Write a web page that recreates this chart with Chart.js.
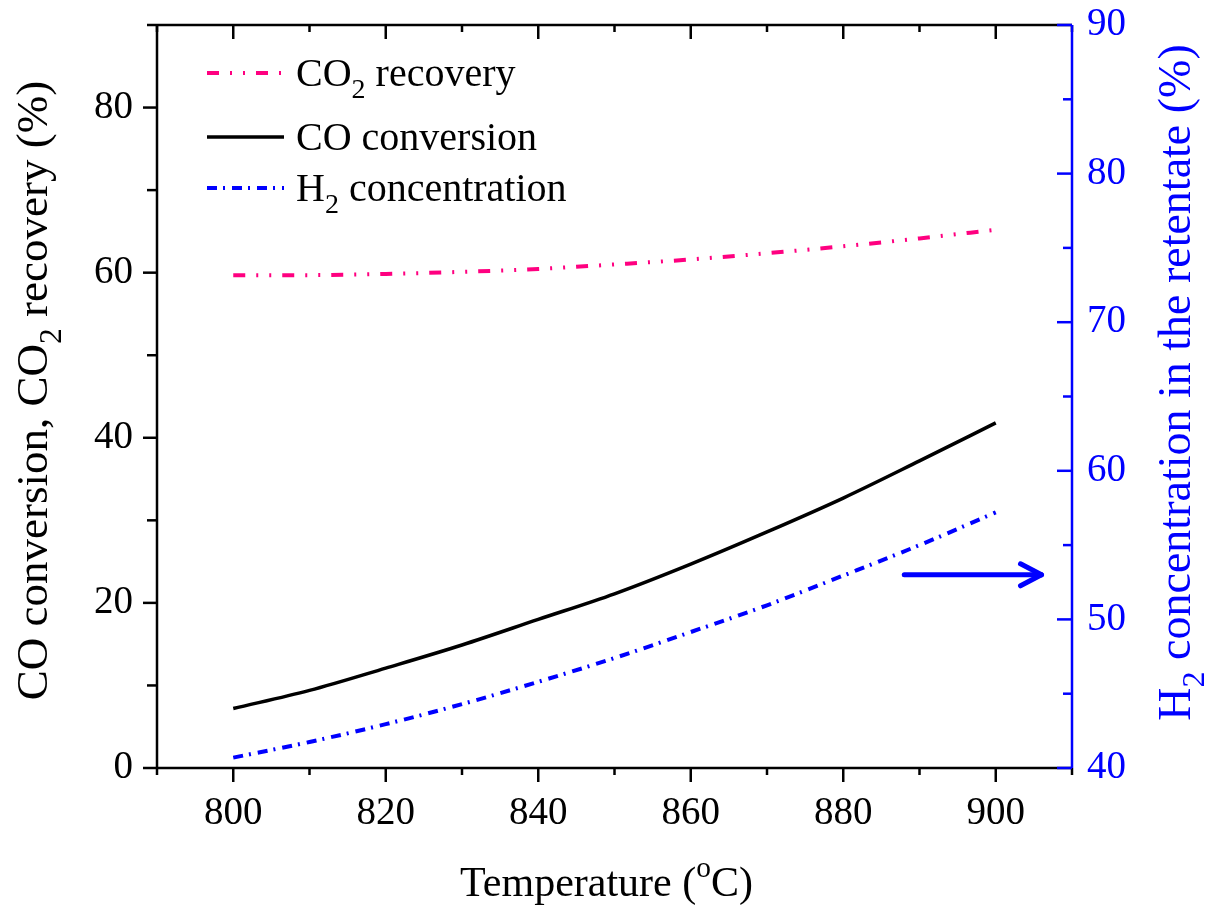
<!DOCTYPE html>
<html>
<head>
<meta charset="utf-8">
<script src="https://cdn.jsdelivr.net/npm/chart.js@4.4.1/dist/chart.umd.min.js"></script>
<style>
  html, body { margin: 0; padding: 0; background: #fff; }
  #chart { display: block; }
</style>
</head>
<body>
<canvas id="chart" width="1209" height="908"></canvas>
<script>
// values
let temps = [800, 810, 820, 830, 840, 850, 860, 870, 880, 890, 900]
let coConversion = [7.2, 9.4, 12.1, 14.9, 18.0, 21.1, 24.7, 28.6, 32.7, 37.2, 41.8]
let co2Recovery = [59.7, 59.7, 59.85, 60.1, 60.45, 61.0, 61.6, 62.35, 63.2, 64.15, 65.2]
let h2Concentration = [40.7, 41.75, 42.95, 44.3, 45.8, 47.4, 49.15, 50.95, 52.95, 55.0, 57.2]

let xTickLabels = [800, 820, 840, 860, 880, 900]
let leftTickLabels = [0, 20, 40, 60, 80]
let rightTickLabels = [40, 50, 60, 70, 80, 90]

let seriesNames = ['CO_{2} recovery', 'CO conversion', 'H_{2} concentration']
let xTitle = 'Temperature (^{o}C)'
let yTitle = 'CO conversion, CO_{2} recovery (%)'
let y1Title = 'H_{2} concentration in the retentate (%)'

// arrow pointing at the right axis (data units)
let arrowFrom = 888
let arrowTo = 906
let arrowLevel = 53

let FONT = '"Liberation Serif", "Times New Roman", serif'
let BLUE = '#0000ff'
let PINK = '#ff0080'

function pairs(ys) {
  return temps.map(function(t, i) { return { x: t, y: ys[i] } })
}

function parseRich(str) {
  let parts = []
  let re = /([_^])\{([^}]*)\}/g
  let last = 0
  let m
  while ((m = re.exec(str))) {
    if (m.index > last) parts.push({ text: str.slice(last, m.index), shift: 0 })
    parts.push({ text: m[2], shift: m[1] === '_' ? 1 : -1 })
    last = re.lastIndex
  }
  if (last < str.length) parts.push({ text: str.slice(last), shift: 0 })
  return parts
}

function drawRich(ctx, str, x, y, size, align) {
  let parts = parseRich(str)
  let fontOf = function(p) { return (p.shift ? size * 0.7 : size) + 'px ' + FONT }
  let widths = parts.map(function(p) {
    ctx.font = fontOf(p)
    return ctx.measureText(p.text).width
  })
  let total = widths.reduce(function(a, b) { return a + b }, 0)
  let cx = align === 'center' ? x - total / 2 : x
  ctx.textAlign = 'left'
  ctx.textBaseline = 'alphabetic'
  parts.forEach(function(p, i) {
    ctx.font = fontOf(p)
    let dy = p.shift === 1 ? size * 0.3 : p.shift === -1 ? -size * 0.45 : 0
    ctx.fillText(p.text, cx, y + dy)
    cx += widths[i]
  })
}

function line(ctx, x1, y1, x2, y2) {
  ctx.beginPath()
  ctx.moveTo(x1, y1)
  ctx.lineTo(x2, y2)
  ctx.stroke()
}

// keep the plot box where the original has it
function fixSize(size, key) {
  return function(s) {
    s[key] = size
    s.paddingTop = 0
    s.paddingBottom = 0
    s.paddingLeft = 0
    s.paddingRight = 0
  }
}

let frame = {
  id: 'frame',
  afterDraw: function(chart) {
    let ctx = chart.ctx
    let a = chart.chartArea
    let xs = chart.scales.x
    let ys = chart.scales.y
    let ys1 = chart.scales.y1
    ctx.save()
    ctx.lineCap = 'butt'
    ctx.lineWidth = 2.5
    ctx.strokeStyle = '#000'
    line(ctx, a.left, a.top, a.left, a.bottom)
    line(ctx, a.left, a.bottom, a.right, a.bottom)
    line(ctx, a.left, a.top, a.right, a.top)
    xs.ticks.forEach(function(t) {
      let px = xs.getPixelForValue(t.value)
      let len = t.label !== '' ? 14 : 7
      line(ctx, px, a.bottom, px, a.bottom + len)
      line(ctx, px, a.top, px, a.top + len)
    })
    ys.ticks.forEach(function(t) {
      let py = ys.getPixelForValue(t.value)
      let len = t.label !== '' ? 14 : 10
      line(ctx, a.left - len, py, a.left, py)
    })
    ctx.strokeStyle = BLUE
    line(ctx, a.right, a.top, a.right, a.bottom)
    ys1.ticks.forEach(function(t) {
      let py = ys1.getPixelForValue(t.value)
      let len = t.label !== '' ? 15 : 9
      line(ctx, a.right - len, py, a.right, py)
    })

    // arrow towards the right axis
    let ay = ys1.getPixelForValue(arrowLevel)
    let ax1 = xs.getPixelForValue(arrowFrom)
    let ax2 = xs.getPixelForValue(arrowTo)
    ctx.lineWidth = 5
    ctx.lineCap = 'round'
    line(ctx, ax1, ay, ax2 - 2, ay)
    line(ctx, ax2 - 21, ay - 11, ax2, ay)
    line(ctx, ax2 - 21, ay + 11, ax2, ay)

    // axis titles
    ctx.fillStyle = '#000'
    drawRich(ctx, xTitle, (a.left + a.right) / 2 - 8, 896, 42, 'center')
    ctx.save()
    ctx.translate(47, (a.top + a.bottom) / 2 - 6)
    ctx.rotate(-Math.PI / 2)
    drawRich(ctx, yTitle, 0, 0, 45, 'center')
    ctx.restore()
    ctx.fillStyle = BLUE
    ctx.save()
    ctx.translate(1190, (a.top + a.bottom) / 2 - 14)
    ctx.rotate(-Math.PI / 2)
    drawRich(ctx, y1Title, 0, 0, 46, 'center')
    ctx.restore()

    // legend
    let rows = [
      { line: 48, text: 61 },
      { line: 112, text: 125 },
      { line: 163, text: 176 }
    ]
    chart.data.datasets.forEach(function(ds, i) {
      let r = rows[i]
      ctx.strokeStyle = ds.borderColor
      ctx.lineWidth = ds.borderWidth
      ctx.lineCap = 'butt'
      ctx.setLineDash(ds.borderDash || [])
      line(ctx, a.left + 50, a.top + r.line, a.left + 127, a.top + r.line)
      ctx.setLineDash([])
      ctx.fillStyle = '#000'
      drawRich(ctx, seriesNames[i], a.left + 139, a.top + r.text, 40, 'left')
    })
    ctx.restore()
  }
}

let ctx = document.getElementById('chart').getContext('2d')
let chart = new Chart(ctx, {
  type: 'line',
  data: {
    datasets: [
      {
        label: seriesNames[0],
        data: pairs(co2Recovery),
        yAxisID: 'y',
        borderColor: PINK,
        borderWidth: 4,
        borderDash: [12, 11, 2, 11, 2, 11]
      },
      {
        label: seriesNames[1],
        data: pairs(coConversion),
        yAxisID: 'y',
        borderColor: '#000',
        borderWidth: 3.5
      },
      {
        label: seriesNames[2],
        data: pairs(h2Concentration),
        yAxisID: 'y1',
        borderColor: BLUE,
        borderWidth: 4,
        borderDash: [10, 6, 2, 7]
      }
    ]
  },
  options: {
    responsive: false,
    animation: false,
    layout: { padding: { top: 25, left: 0, right: 0, bottom: 0 } },
    elements: {
      point: { radius: 0 },
      line: { cubicInterpolationMode: 'monotone', fill: false }
    },
    plugins: {
      legend: { display: false },
      tooltip: { enabled: false }
    },
    scales: {
      x: {
        type: 'linear',
        position: 'bottom',
        min: 790,
        max: 910,
        afterFit: fixSize(140, 'height'),
        grid: { display: false, drawTicks: false },
        border: { display: false },
        ticks: {
          stepSize: 10,
          autoSkip: false,
          maxRotation: 0,
          padding: 22,
          color: '#000',
          font: { family: FONT, size: 39 },
          callback: function(v) { return xTickLabels.includes(v) ? String(v) : '' }
        }
      },
      y: {
        type: 'linear',
        position: 'left',
        min: 0,
        max: 90,
        afterFit: fixSize(157, 'width'),
        grid: { display: false, drawTicks: false },
        border: { display: false },
        ticks: {
          stepSize: 10,
          autoSkip: false,
          padding: 24,
          color: '#000',
          font: { family: FONT, size: 39 },
          callback: function(v) { return leftTickLabels.includes(v) ? String(v) : '' }
        }
      },
      y1: {
        type: 'linear',
        position: 'right',
        min: 40,
        max: 90,
        afterFit: fixSize(137, 'width'),
        grid: { display: false, drawTicks: false },
        border: { display: false },
        ticks: {
          stepSize: 5,
          autoSkip: false,
          padding: 15,
          color: BLUE,
          font: { family: FONT, size: 39 },
          callback: function(v) { return rightTickLabels.includes(v) ? String(v) : '' }
        }
      }
    }
  },
  plugins: [frame]
})
</script>
</body>
</html>
